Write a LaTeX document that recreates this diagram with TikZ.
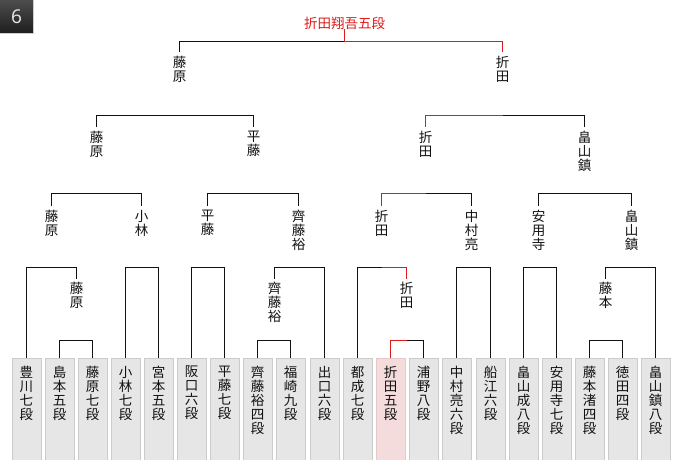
\documentclass[tikz,border=0pt]{standalone}
\usepackage{fontspec}
\newfontfamily\jp{Noto Sans CJK JP}
\newfontfamily\badgefont{Open Sans}
\definecolor{winred}{HTML}{DD1B1B}
\definecolor{boxfill}{HTML}{E6E6E6}
\definecolor{boxline}{HTML}{CBCBCB}
\definecolor{pinkfill}{HTML}{F5DCDC}
\definecolor{pinkline}{HTML}{E6CACA}
\definecolor{linecol}{HTML}{111111}
\begin{document}
\begin{tikzpicture}[x=1pt,y=-1pt,
  every node/.style={inner sep=0pt,outer sep=0pt},
  jtext/.style={font=\jp\fontsize{13.5}{14}\selectfont,align=center,text=linecol},
  player/.style={draw=boxline,fill=boxfill,line width=1pt,minimum width=29pt,minimum height=102pt,anchor=north},
  hiplayer/.style={player,draw=pinkline,fill=pinkfill},
  ptext/.style={jtext,anchor=north,yshift=-8pt},
  win/.style={jtext,anchor=north},
  conn/.style={line width=1pt,draw=linecol},
  redc/.style={line width=1.2pt,draw=winred},
  gs/.style={shorten <=4pt},
  ge/.style={shorten >=4pt}]
\useasboundingbox (0,0) rectangle (680,460);

% badge
\node[minimum size=33pt,top color=black!70,bottom color=black!88,anchor=north west] (badge) at (0,0) {};
\node[font=\badgefont\fontsize{19}{19}\selectfont,text=white!92!black] (badgetxt) at (badge.center) {6};
\draw[black!20,line width=0.8pt] (badge.north east) -- (badge.south east) -- (badge.south west);

% players
\node[player,label={[name=t1,ptext]north:{豊\\川\\七\\段}}] (b1) at (26.5,358) {};
\node[player,label={[name=t2,ptext]north:{島\\本\\五\\段}}] (b2) at (59.5,358) {};
\node[player,label={[name=t3,ptext]north:{藤\\原\\七\\段}}] (b3) at (92.5,358) {};
\node[player,label={[name=t4,ptext]north:{小\\林\\七\\段}}] (b4) at (125.5,358) {};
\node[player,label={[name=t5,ptext]north:{宮\\本\\五\\段}}] (b5) at (158.5,358) {};
\node[player,label={[name=t6,ptext]north:{阪\\口\\六\\段}}] (b6) at (191.5,358) {};
\node[player,label={[name=t7,ptext]north:{平\\藤\\七\\段}}] (b7) at (224.5,358) {};
\node[player,label={[name=t8,ptext]north:{齊\\藤\\裕\\四\\段}}] (b8) at (257.5,358) {};
\node[player,label={[name=t9,ptext]north:{福\\崎\\九\\段}}] (b9) at (290.5,358) {};
\node[player,label={[name=t10,ptext]north:{出\\口\\六\\段}}] (b10) at (324.5,358) {};
\node[player,label={[name=t11,ptext]north:{都\\成\\七\\段}}] (b11) at (357.5,358) {};
\node[hiplayer,label={[name=t12,ptext]north:{折\\田\\五\\段}}] (b12) at (390.5,358) {};
\node[player,label={[name=t13,ptext]north:{浦\\野\\八\\段}}] (b13) at (423.5,358) {};
\node[player,label={[name=t14,ptext]north:{中\\村\\亮\\六\\段}}] (b14) at (456.5,358) {};
\node[player,label={[name=t15,ptext]north:{船\\江\\六\\段}}] (b15) at (490.5,358) {};
\node[player,label={[name=t16,ptext]north:{畠\\山\\成\\八\\段}}] (b16) at (523.5,358) {};
\node[player,label={[name=t17,ptext]north:{安\\用\\寺\\七\\段}}] (b17) at (556.5,358) {};
\node[player,label={[name=t18,ptext]north:{藤\\本\\渚\\四\\段}}] (b18) at (589.5,358) {};
\node[player,label={[name=t19,ptext]north:{徳\\田\\四\\段}}] (b19) at (622.5,358) {};
\node[player,label={[name=t20,ptext]north:{畠\\山\\鎮\\八\\段}}] (b20) at (655.5,358) {};

% winners, round 1
\node[win] (fA) at (76.5,282.5) {藤\\原};
\node[win] (fB) at (274.5,282.5) {齊\\藤\\裕};
\node[win] (fC) at (406.5,282.5) {折\\田};
\node[win] (fD) at (605.5,282.5) {藤\\本};
% round 2
\node[win] (eA) at (51.5,210) {藤\\原};
\node[win] (eB) at (141.5,210) {小\\林};
\node[win] (eC) at (207.5,210) {平\\藤};
\node[win] (eD) at (298.5,210) {齊\\藤\\裕};
\node[win] (eE) at (381.5,210) {折\\田};
\node[win] (eF) at (471.5,210) {中\\村\\亮};
\node[win] (eG) at (538.5,210) {安\\用\\寺};
\node[win] (eH) at (631.5,210) {畠\\山\\鎮};
% round 3
\node[win] (dA) at (96.5,131) {藤\\原};
\node[win] (dB) at (253.5,131) {平\\藤};
\node[win] (dC) at (425.5,131) {折\\田};
\node[win] (dD) at (584.5,131) {畠\\山\\鎮};
% semifinal
\node[win] (cA) at (179.5,56) {藤\\原};
\node[win] (cB) at (502.5,56) {折\\田};
% champion
\node[jtext,text=winred,anchor=south] (title) at (344.5,29.5) {折田翔吾五段};

% round 1 matches
\draw[conn] (b2.north) |- (fA.south |- 0,340.5) -| (b3.north);
\draw[conn] (b8.north) |- (fB.south |- 0,340.5) -| (b9.north);
\draw[conn] (fC.south |- 0,340.5) -| (b13.north);
\draw[redc] (fC.south |- 0,340.5) -| (b12.north);
\draw[conn] (b18.north) |- (fD.south |- 0,340.5) -| (b19.north);

% round 2 matches
\draw[conn,ge] (b1.north) |- (eA.south |- 0,267.5) -| (fA.north);
\draw[conn] (b4.north) |- (eB.south |- 0,267.5) -| (b5.north);
\draw[conn] (b6.north) |- (eC.south |- 0,267.5) -| (b7.north);
\draw[conn,gs] (fB.north) |- (eD.south |- 0,267.5) -| (b10.north);
\draw[conn] (b11.north) |- (eE.south |- 0,267.5);
\draw[redc,ge] (eE.south |- 0,267.5) -| (fC.north);
\draw[conn] (b14.north) |- (eF.south |- 0,267.5) -| (b15.north);
\draw[conn] (b16.north) |- (eG.south |- 0,267.5) -| (b17.north);
\draw[conn,gs] (fD.north) |- (eH.south |- 0,267.5) -| (b20.north);

% round 3 matches
\draw[conn,gs,ge] (eA.north) |- (dA.south |- 0,193.5) -| (eB.north);
\draw[conn,gs,ge] (eC.north) |- (dB.south |- 0,193.5) -| (eD.north);
\draw[conn,ge] (dC.south |- 0,193.5) -| (eF.north);
\draw[conn,gs,ge] (eG.north) |- (dD.south |- 0,193.5) -| (eH.north);

% semifinals
\draw[conn,gs,ge] (dA.north) |- (cA.south |- 0,115.5) -| (dB.north);
\draw[conn,ge] (cB.south |- 0,115.5) -| (dD.north);

% final
\draw[conn,gs] (cA.north) |- (title.south |- 0,41.5);

% winner's path in red, drawn last
\draw[redc,ge] (dC.south |- 0,193.5) -| (eE.north);
\draw[redc,ge] (cB.south |- 0,115.5) -| (dC.north);
\draw[redc,ge] (title.south) -- (title.south |- 0,41.5) -| (cB.north);
\end{tikzpicture}
\end{document}
